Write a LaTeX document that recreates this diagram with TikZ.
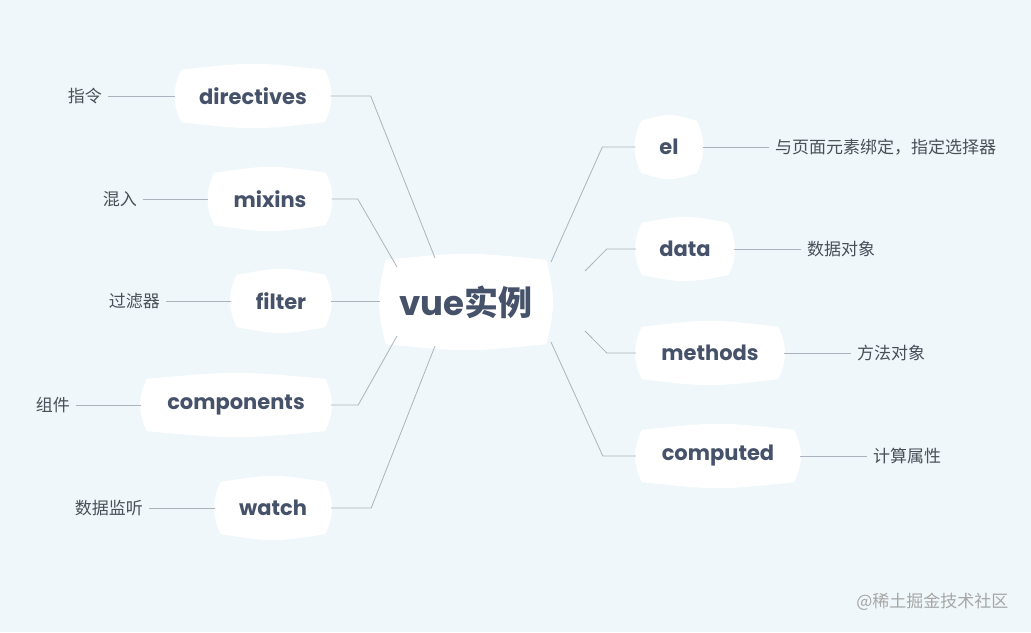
\documentclass[tikz,border=0pt]{standalone}
\usepackage{fontspec}
\setmainfont{Poppins}
\newfontfamily\cjk{Noto Sans CJK SC}
\usetikzlibrary{calc,backgrounds}
\definecolor{bg}{HTML}{EFF7FA}
\definecolor{ink}{HTML}{46526A}
\definecolor{leaf}{HTML}{4A4F58}
\definecolor{ln}{HTML}{A9B4BC}
\tikzset{
  topic/.style={inner sep=0pt, text=ink, font=\bfseries\fontsize{21}{24}\selectfont, minimum height=58pt},
  leafn/.style={inner sep=0pt, text=leaf, font=\cjk\fontsize{17}{19}\selectfont},
  conn/.style={draw=ln, line width=0.8pt},
}
\newcommand\blob[1]{%
  \fill[white] ($(#1.north west)+(6,3)$) .. controls ($(#1.north)+(0,-5)$) .. ($(#1.north east)+(-6,3)$)
   .. controls ($(#1.east)+(3,-8)$) and ($(#1.east)+(3,8)$) .. ($(#1.south east)+(-6,-3)$)
   .. controls ($(#1.south)+(0,5)$) .. ($(#1.south west)+(6,-3)$)
   .. controls ($(#1.west)+(-3,8)$) and ($(#1.west)+(-3,-8)$) .. cycle;}
\begin{document}
\begin{tikzpicture}[x=1pt,y=-1pt]
\useasboundingbox (0,0) rectangle (1031,632);
\node[topic, minimum width=172pt, minimum height=90pt, font=\bfseries\fontsize{34}{38}\selectfont] (vue) at (466,302) {vue{\cjk 实例}};
\node[topic, minimum width=155pt] (dir) at (253,96) {directives};
\node[topic, minimum width=123pt] (mix) at (270,199) {mixins};
\node[topic, minimum width=100pt] (fil) at (281,301) {filter};
\node[topic, minimum width=190pt] (com) at (236,405) {components};
\node[topic, minimum width=116pt] (wat) at (273,508) {watch};
\node[topic, minimum width=67pt] (el) at (669,147) {el};
\node[topic, minimum width=98pt] (dat) at (685,249) {data};
\node[topic, minimum width=148pt] (met) at (710,353) {methods};
\node[topic, minimum width=164pt] (cmp) at (718,456) {computed};
\begin{scope}[on background layer]
\fill[bg] (0,0) rectangle (1031,632);
\foreach \n in {vue,dir,mix,fil,com,wat,el,dat,met,cmp}{\blob{\n}}
\end{scope}
% leaves
\node[leafn, anchor=east] (l1) at (102,96) {指令};
\node[leafn, anchor=east] (l2) at (137,199) {混入};
\node[leafn, anchor=east] (l3) at (160,301) {过滤器};
\node[leafn, anchor=east] (l4) at (70,405) {组件};
\node[leafn, anchor=east] (l5) at (143,508) {数据监听};
\node[leafn, anchor=west] (r1) at (775,147) {与页面元素绑定，指定选择器};
\node[leafn, anchor=west] (r2) at (807,249) {数据对象};
\node[leafn, anchor=west] (r3) at (857,353) {方法对象};
\node[leafn, anchor=west] (r4) at (873,456) {计算属性};
\foreach \a/\b in {l1/dir,l2/mix,l3/fil,l4/com,l5/wat}{\draw[conn] ($(\a.east)+(6,0)$) -- (\b.west);}
\foreach \a/\b in {el/r1,dat/r2,met/r3,cmp/r4}{\draw[conn] (\a.east) -- ($(\b.west)+(-6,0)$);}
% main connectors
\coordinate (v1) at (435,258); \coordinate (v2) at (397,267); \coordinate (v3) at (380,301);
\coordinate (v4) at (397,336); \coordinate (v5) at (435,346);
\coordinate (w1) at (551,262); \coordinate (w2) at (585,271); \coordinate (w3) at (585,331); \coordinate (w4) at (551,342);
\draw[conn] (dir.east) -- ++(40,0) -- (v1);
\draw[conn] (mix.east) -- ++(26,0) -- (v2);
\draw[conn] (fil.east) -- (v3);
\draw[conn] (com.east) -- ++(27,0) -- (v4);
\draw[conn] (wat.east) -- ++(40,0) -- (v5);
\draw[conn] (el.west) -- ++(-33,0) -- (w1);
\draw[conn] (dat.west) -- ++(-29,0) -- (w2);
\draw[conn] (met.west) -- ++(-29,0) -- (w3);
\draw[conn] (cmp.west) -- ++(-33,0) -- (w4);
\node[anchor=east, text=gray!70, font=\cjk\fontsize{17}{20}\selectfont] (wm) at (1012,602) {@稀土掘金技术社区};
\end{tikzpicture}
\end{document}
